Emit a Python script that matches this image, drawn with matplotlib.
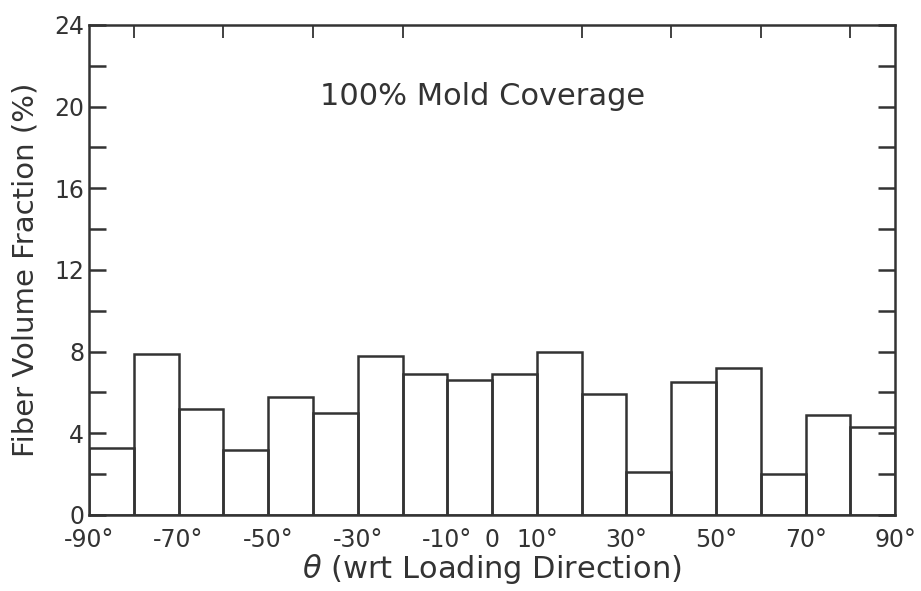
import matplotlib
matplotlib.use('Agg')
import matplotlib.pyplot as plt
import numpy as np

# bin left edges (deg) and fiber volume fraction (%) per 10 deg bin
bin_left = np.arange(-90, 90, 10)
fraction = [3.3, 7.9, 5.2, 3.2, 5.8, 5.0, 7.8, 6.9, 6.6,
            6.9, 8.0, 5.9, 2.1, 6.5, 7.2, 2.0, 4.9, 4.3]

xtick_pos = [-90, -70, -50, -30, -10, 0, 10, 30, 50, 70, 90]
xtick_lab = ['-90°', '-70°', '-50°', '-30°', '-10°', '0', '10°', '30°', '50°', '70°', '90°']

ink = '#333333'
plt.rcParams['font.family'] = 'DejaVu Sans'

fig = plt.figure(figsize=(9.21, 5.91), dpi=100)
ax = fig.add_axes([0.0966, 0.1286, 0.8754, 0.8294])

ax.bar(bin_left, fraction, width=10, align='edge', fill=False,
       edgecolor=ink, linewidth=1.8)

ax.set_xlim(-90, 90)
ax.set_ylim(0, 24)

ax.set_xticks(xtick_pos)
ax.set_xticklabels(xtick_lab, fontsize=17, color=ink)
ax.set_xticks(np.arange(-80, 90, 10), minor=True)
ax.tick_params(axis='x', which='major', bottom=False, top=False, pad=6)
ax.tick_params(axis='x', which='minor', bottom=False, top=True, direction='in',
               length=9, width=1.3, color=ink)

ax.set_yticks(np.arange(0, 25, 4))
ax.set_yticks(np.arange(0, 25, 2), minor=True)
ax.tick_params(axis='y', which='both', left=True, right=True, direction='in',
               length=12, width=1.8, color=ink, labelsize=17, labelcolor=ink)

for s in ax.spines.values():
    s.set_color(ink)
    s.set_linewidth(1.8)

ax.set_ylabel('Fiber Volume Fraction (%)', fontsize=21, color=ink)
ax.yaxis.set_label_coords(-0.061, 0.5)
ax.set_xlabel(r'$\theta$ (wrt Loading Direction)', fontsize=22, color=ink, labelpad=0)

ax.text(-38.5, 20.5, '100% Mold Coverage', fontsize=22, color=ink, va='center')

fig.savefig('out.png', dpi=100)
